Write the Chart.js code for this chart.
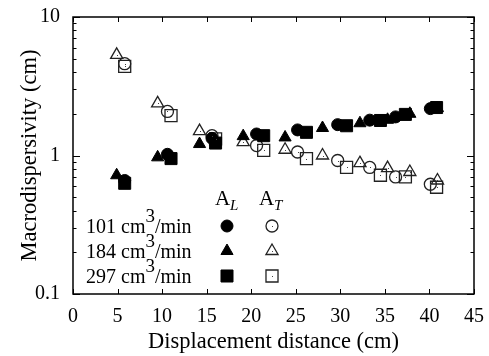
<!DOCTYPE html>
<html>
<head>
<meta charset="utf-8">
<script src="https://cdn.jsdelivr.net/npm/chart.js@4/dist/chart.umd.min.js"></script>
<style>
  html, body { margin: 0; padding: 0; background: #fff; }
  #wrap { width: 489px; height: 356px; }
</style>
</head>
<body>
<div id="wrap"><canvas id="dispChart" width="489" height="356"></canvas></div>
<script>
// tick values
const xTicks = [0, 5, 10, 15, 20, 25, 30, 35, 40, 45];
const yTicks = [0.1, 1, 10];
const yMinor = [0.2, 0.3, 0.4, 0.5, 0.6, 0.7, 0.8, 0.9, 2, 3, 4, 5, 6, 7, 8, 9];

// flow rates (legend)
const flowRates = ["101", "184", "297"];

// displacement distance (cm) for each flow rate
const dist101 = [5.8, 10.6, 15.6, 20.6, 25.2, 29.7, 33.3, 36.2, 40.1];
const dist184 = [4.9, 9.5, 14.2, 19.1, 23.8, 28.0, 32.2, 35.3, 37.8, 40.9];
const dist297 = [5.8, 11.0, 16.0, 21.4, 26.2, 30.7, 34.5, 37.3, 40.8];

// longitudinal macrodispersivity A_L (cm)
const aL101 = [0.66, 1.02, 1.33, 1.43, 1.53, 1.67, 1.80, 1.90, 2.18];
const aL184 = [0.72, 0.97, 1.21, 1.38, 1.35, 1.58, 1.71, 1.81, 2.0, 2.2];
const aL297 = [0.63, 0.95, 1.23, 1.39, 1.47, 1.64, 1.79, 1.98, 2.22];

// transverse macrodispersivity A_T (cm)
const aT101 = [4.6, 2.08, 1.39, 1.18, 1.06, 0.92, 0.82, 0.70, 0.62];
const aT184 = [5.33, 2.38, 1.50, 1.25, 1.10, 1.0, 0.88, 0.81, 0.76, 0.66];
const aT297 = [4.4, 1.94, 1.32, 1.09, 0.95, 0.82, 0.72, 0.70, 0.59];

const serif = "'Liberation Serif', 'DejaVu Serif', serif";

function pts(xs, ys) {
  return xs.map((x, i) => ({ x: x, y: ys[i] }));
}

// marker looks per flow rate
const styles = [
  { pointStyle: "circle", radius: 6 },
  { pointStyle: "triangle", radius: 7 },
  { pointStyle: "rect", radius: 8.5 }
];

function filledSet(label, data, st) {
  return {
    label: label, data: data,
    pointStyle: st.pointStyle, pointRadius: st.radius, pointHoverRadius: st.radius,
    backgroundColor: "#000", borderColor: "#000", borderWidth: 1
  };
}
function openSet(label, data, st) {
  return {
    label: label, data: data, open: true,
    pointStyle: st.pointStyle, pointRadius: st.radius, pointHoverRadius: st.radius,
    backgroundColor: "rgba(0,0,0,0)", borderColor: "#222", borderWidth: 1.3
  };
}

// first dataset is drawn last (on top)
const datasets = [
  filledSet("AL 297", pts(dist297, aL297), styles[2]),
  filledSet("AL 101", pts(dist101, aL101), styles[0]),
  filledSet("AL 184", pts(dist184, aL184), styles[1]),
  openSet("AT 297", pts(dist297, aT297), styles[2]),
  openSet("AT 101", pts(dist101, aT101), styles[0]),
  openSet("AT 184", pts(dist184, aT184), styles[1])
];

// frame, inner ticks, centre dots of open markers and the legend
const framePlugin = {
  id: "frame",
  afterDatasetsDraw(chart) {
    const ctx = chart.ctx;
    const a = chart.chartArea;
    const xs = chart.scales.x, ys = chart.scales.y;
    ctx.save();

    // small dot in the middle of the open markers
    ctx.fillStyle = "#444";
    chart.data.datasets.forEach((ds, i) => {
      if (!ds.open) return;
      chart.getDatasetMeta(i).data.forEach((p) => {
        ctx.fillRect(Math.round(p.x), Math.round(p.y), 1, 1);
      });
    });

    ctx.strokeStyle = "#000";
    ctx.lineWidth = 1.5;
    ctx.strokeRect(a.left, a.top, a.right - a.left, a.bottom - a.top);

    ctx.lineWidth = 1;
    ctx.beginPath();
    xTicks.forEach((v) => {
      const px = Math.round(xs.getPixelForValue(v)) + 0.5;
      ctx.moveTo(px, a.bottom); ctx.lineTo(px, a.bottom - 5);
      ctx.moveTo(px, a.top); ctx.lineTo(px, a.top + 5);
    });
    yTicks.forEach((v) => {
      const py = Math.round(ys.getPixelForValue(v)) + 0.5;
      ctx.moveTo(a.left, py); ctx.lineTo(a.left + 7, py);
      ctx.moveTo(a.right, py); ctx.lineTo(a.right - 7, py);
    });
    yMinor.forEach((v) => {
      const py = Math.round(ys.getPixelForValue(v)) + 0.5;
      ctx.moveTo(a.left, py); ctx.lineTo(a.left + 3.5, py);
      ctx.moveTo(a.right, py); ctx.lineTo(a.right - 3.5, py);
    });
    ctx.stroke();

    // legend
    ctx.fillStyle = "#000";
    ctx.textBaseline = "alphabetic";
    ctx.textAlign = "left";
    ctx.font = "21px " + serif;
    ctx.fillText("A", 215, 205);
    ctx.fillText("A", 259, 205);
    ctx.font = "italic 15px " + serif;
    ctx.fillText("L", 230, 210);
    ctx.fillText("T", 274, 210);

    const rowY = [226, 251, 276];
    flowRates.forEach((r, i) => {
      const y = rowY[i];
      ctx.fillStyle = "#000";
      ctx.font = "20px " + serif;
      let x = 86;
      const t1 = r + " cm";
      ctx.fillText(t1, x, y + 7);
      x += ctx.measureText(t1).width;
      ctx.font = "19px " + serif;
      ctx.fillText("3", x, y - 4);
      x += ctx.measureText("3").width;
      ctx.font = "20px " + serif;
      ctx.fillText("/min", x, y + 7);

      const st = styles[i];
      ctx.fillStyle = "#000";
      ctx.strokeStyle = "#000";
      ctx.lineWidth = 1;
      Chart.helpers.drawPoint(ctx, { pointStyle: st.pointStyle, radius: st.radius, rotation: 0, borderWidth: 1 }, 227, y);
      ctx.fillStyle = "rgba(0,0,0,0)";
      ctx.strokeStyle = "#222";
      ctx.lineWidth = 1.3;
      Chart.helpers.drawPoint(ctx, { pointStyle: st.pointStyle, radius: st.radius, rotation: 0, borderWidth: 1.3 }, 272, y);
      ctx.fillStyle = "#444";
      ctx.fillRect(272, y, 1, 1);
    });

    ctx.restore();
  }
};

const ctx = document.getElementById("dispChart").getContext("2d");
const myChart = new Chart(ctx, {
  type: "scatter",
  data: { datasets: datasets },
  options: {
    responsive: false,
    animation: false,
    events: [],
    layout: { padding: { top: 16, right: 15, left: 0, bottom: 0 } },
    plugins: { legend: { display: false }, tooltip: { enabled: false } },
    scales: {
      x: {
        type: "linear", min: 0, max: 45,
        grid: { display: false },
        border: { display: false },
        afterBuildTicks: (s) => { s.ticks = xTicks.map((v) => ({ value: v })); },
        afterFit: (s) => { s.height = 62; },
        ticks: { color: "#000", padding: 3, maxRotation: 0, font: { family: serif, size: 20 } },
        title: { display: true, text: "Displacement distance (cm)", color: "#000", padding: { top: 0, bottom: 0 }, font: { family: serif, size: 22.5 } }
      },
      y: {
        type: "logarithmic", min: 0.1, max: 10,
        grid: { display: false },
        border: { display: false },
        afterBuildTicks: (s) => { s.ticks = yTicks.map((v) => ({ value: v })); },
        afterFit: (s) => { s.width = 73; },
        ticks: { color: "#000", padding: 5, font: { family: serif, size: 20 }, callback: (v) => String(v) },
        title: { display: true, text: "Macrodispersivity (cm)", color: "#000", padding: { top: 17, bottom: 0 }, font: { family: serif, size: 22.5 } }
      }
    }
  },
  plugins: [framePlugin]
});
</script>
</body>
</html>
